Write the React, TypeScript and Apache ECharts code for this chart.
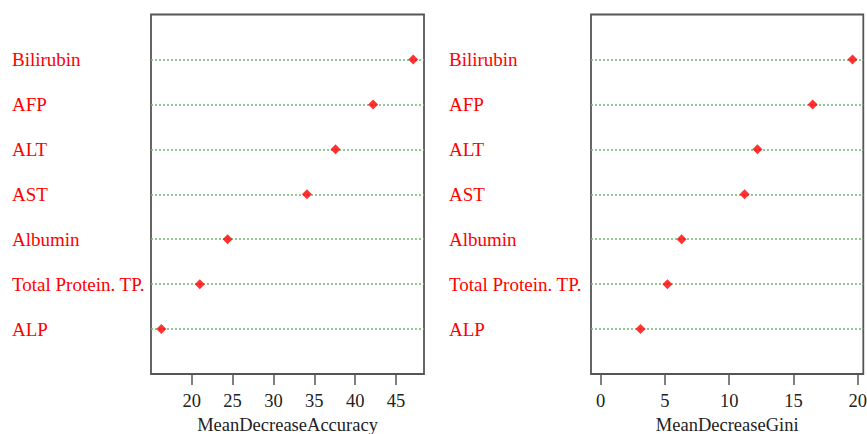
import React, { useEffect, useRef } from "react";
import * as echarts from "echarts";

const variables = ["ALP", "Total Protein. TP.", "Albumin", "AST", "ALT", "AFP", "Bilirubin"];
const meanDecreaseAccuracy = [16.3, 21.0, 24.4, 34.1, 37.6, 42.2, 47.1];
const meanDecreaseGini = [3.1, 5.2, 6.3, 11.2, 12.2, 16.5, 19.6];
const accuracyTicks = [20, 25, 30, 35, 40, 45];
const giniTicks = [0, 5, 10, 15, 20];

const FONT = "Liberation Serif";
const rows = variables.map((_, i) => i + 1);

function panel(idx: number, values: number[], ticks: number[], min: number, max: number, name: string, labelMargin: number) {
  const xAxis = {
    type: "value",
    gridIndex: idx,
    min,
    max,
    name,
    nameLocation: "middle",
    nameGap: 41,
    nameTextStyle: { fontFamily: FONT, fontSize: 18.5, color: "#222" },
    axisLine: { show: false },
    splitLine: { show: false },
    axisTick: { show: true, length: 11, customValues: ticks, lineStyle: { color: "#555", width: 1.5 } },
    axisLabel: { customValues: ticks, margin: 17, fontFamily: FONT, fontSize: 18.5, color: "#222" },
  };
  const yAxis = {
    type: "value",
    gridIndex: idx,
    min: 0,
    max: 8,
    axisLine: { show: false },
    axisTick: { show: false },
    splitLine: { show: false },
    axisLabel: {
      customValues: rows,
      formatter: (v: number) => variables[v - 1] ?? "",
      align: "left",
      margin: labelMargin,
      fontFamily: FONT,
      fontSize: 19,
      color: "#ff0000",
    },
  };
  const series = {
    type: "scatter",
    xAxisIndex: idx,
    yAxisIndex: idx,
    symbol: "diamond",
    symbolSize: 10,
    itemStyle: { color: "#ff0000" },
    data: values.map((v, i) => [v, i + 1]),
    z: 5,
    markLine: {
      silent: true,
      symbol: ["none", "none"],
      label: { show: false },
      lineStyle: { color: "#6fb86f", type: [2, 2], width: 1.5 },
      data: rows.map((r) => ({ yAxis: r })),
    },
  };
  return { xAxis, yAxis, series };
}

export default function App() {
  const ref = useRef<HTMLDivElement>(null);
  useEffect(() => {
    if (!ref.current) return;
    const chart = echarts.init(ref.current, undefined, { renderer: "svg" });
    const p1 = panel(0, meanDecreaseAccuracy, accuracyTicks, 15.03, 48.42, "MeanDecreaseAccuracy", 139);
    const p2 = panel(1, meanDecreaseGini, giniTicks, -0.75, 20.44, "MeanDecreaseGini", 142);
    chart.setOption({
      animation: false,
      backgroundColor: "#ffffff",
      grid: [
        { left: 151, right: 443, top: 14.5, bottom: 60, outerBoundsMode: "none", containLabel: false, show: true, borderColor: "#555", borderWidth: 1.8, backgroundColor: "transparent" },
        { left: 591, right: 3.7, top: 14.5, bottom: 60, outerBoundsMode: "none", containLabel: false, show: true, borderColor: "#555", borderWidth: 1.8, backgroundColor: "transparent" },
      ],
      xAxis: [p1.xAxis, p2.xAxis],
      yAxis: [p1.yAxis, p2.yAxis],
      series: [p1.series, p2.series],
    });
    return () => chart.dispose();
  }, []);
  return <div ref={ref} style={{ width: 867, height: 434, position: "fixed", left: 0, top: 0 }} />;
}
